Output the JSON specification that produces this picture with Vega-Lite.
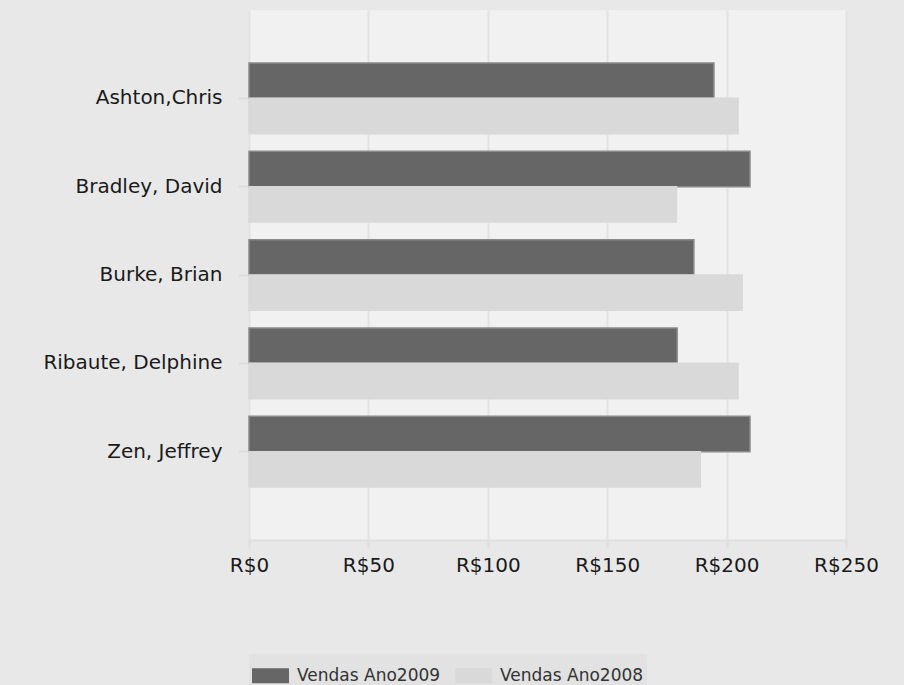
{
  "$schema": "https://vega.github.io/schema/vega-lite/v6.json",
  "autosize": {"type": "none"},
  "padding": {"left": 249, "top": 10, "right": 58, "bottom": 145},
  "width": 597,
  "height": 530,
  "background": "#e8e8e8",
  "config": {
    "view": {"fill": "#f1f1f1", "stroke": null},
    "font": "DejaVu Sans"
  },
  "data": {
    "values": [
      {"nome": "Ashton,Chris", "serie": "Vendas Ano2009", "valor": 194.7},
      {"nome": "Ashton,Chris", "serie": "Vendas Ano2008", "valor": 204.8},
      {"nome": "Bradley, David", "serie": "Vendas Ano2009", "valor": 209.8},
      {"nome": "Bradley, David", "serie": "Vendas Ano2008", "valor": 179},
      {"nome": "Burke, Brian", "serie": "Vendas Ano2009", "valor": 186.3},
      {"nome": "Burke, Brian", "serie": "Vendas Ano2008", "valor": 206.5},
      {"nome": "Ribaute, Delphine", "serie": "Vendas Ano2009", "valor": 179.3},
      {"nome": "Ribaute, Delphine", "serie": "Vendas Ano2008", "valor": 204.8},
      {"nome": "Zen, Jeffrey", "serie": "Vendas Ano2009", "valor": 209.8},
      {"nome": "Zen, Jeffrey", "serie": "Vendas Ano2008", "valor": 189}
    ]
  },
  "mark": {"type": "bar", "strokeWidth": 1.5},
  "encoding": {
    "y": {
      "field": "nome",
      "type": "nominal",
      "sort": ["Ashton,Chris", "Bradley, David", "Burke, Brian", "Ribaute, Delphine", "Zen, Jeffrey"],
      "scale": {"paddingInner": 0.2, "paddingOuter": 0.6},
      "axis": {
        "title": null,
        "labelFont": "DejaVu Sans",
        "labelFontSize": 20,
        "labelColor": "#1a1a1a",
        "labelPadding": 16,
        "tickColor": "#dddddd",
        "tickSize": 11,
        "tickWidth": 2,
        "domain": false,
        "grid": false
      }
    },
    "yOffset": {
      "field": "serie",
      "type": "nominal",
      "sort": ["Vendas Ano2009", "Vendas Ano2008"],
      "scale": {"paddingInner": 0, "paddingOuter": 0}
    },
    "x": {
      "field": "valor",
      "type": "quantitative",
      "scale": {"domain": [0, 250], "nice": false},
      "axis": {
        "title": null,
        "values": [0, 50, 100, 150, 200, 250],
        "labelExpr": "'R$' + datum.value",
        "labelFlush": false,
        "labelOverlap": false,
        "labelFont": "DejaVu Sans",
        "labelFontSize": 20,
        "labelColor": "#1a1a1a",
        "labelPadding": 7,
        "grid": true,
        "gridColor": "#e2e2e2",
        "gridWidth": 2,
        "domainColor": "#e0e0e0",
        "domainWidth": 2,
        "tickColor": "#dddddd",
        "tickSize": 8,
        "tickWidth": 2
      }
    },
    "color": {
      "field": "serie",
      "type": "nominal",
      "sort": ["Vendas Ano2009", "Vendas Ano2008"],
      "scale": {"domain": ["Vendas Ano2009", "Vendas Ano2008"], "range": ["#666666", "#d9d9d9"]},
      "legend": {
        "title": null,
        "orient": "bottom",
        "direction": "horizontal",
        "offset": 79,
        "symbolType": "M-1,-0.4L1,-0.4L1,0.4L-1,0.4Z",
        "symbolSize": 1369,
        "symbolStrokeWidth": 0,
        "labelFont": "DejaVu Sans",
        "labelFontSize": 17,
        "labelColor": "#333333",
        "labelOffset": 8,
        "columnPadding": 14,
        "fillColor": "#e2e2e2",
        "padding": 3
      }
    },
    "stroke": {
      "field": "serie",
      "type": "nominal",
      "scale": {"domain": ["Vendas Ano2009", "Vendas Ano2008"], "range": ["#8a8a8a", "#d9d9d9"]},
      "legend": null
    }
  }
}
